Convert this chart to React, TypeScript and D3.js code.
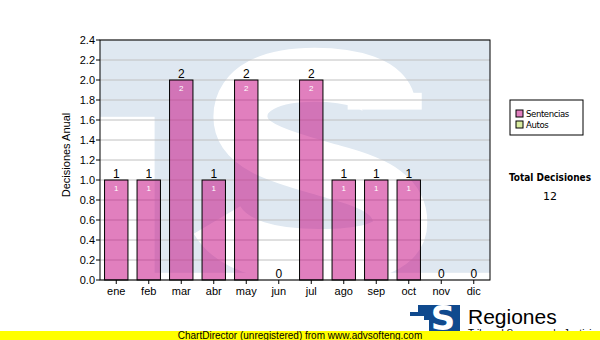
import React from "react";
import * as d3 from "d3";

const months = ["ene", "feb", "mar", "abr", "may", "jun", "jul", "ago", "sep", "oct", "nov", "dic"];
const sentencias = [1, 1, 2, 1, 2, 0, 2, 1, 1, 1, 0, 0];
const autos = [0, 0, 0, 0, 0, 0, 0, 0, 0, 0, 0, 0];
const yTicks = [0, 0.2, 0.4, 0.6, 0.8, 1.0, 1.2, 1.4, 1.6, 1.8, 2.0, 2.2, 2.4];
const legendItems = ["Sentencias", "Autos"];
const legendColors = ["#e07fbe", "#d9eca0"];
const totalLabel = "Total Decisiones";

const W = 600;
const H = 340;
const plot = { left: 100, top: 40, right: 490, bottom: 280 };
const font = "Arial, 'Liberation Sans', sans-serif";

export default function App() {
  const x = d3
    .scaleBand<string>()
    .domain(months)
    .range([plot.left, plot.right])
    .paddingInner(0.28)
    .paddingOuter(0.14);
  const y = d3.scaleLinear().domain([0, 2.4]).range([plot.bottom, plot.top]);
  const pw = plot.right - plot.left;
  const ph = plot.bottom - plot.top;
  const total = d3.sum(sentencias) + d3.sum(autos);

  // watermark (decorative logo), relative to plot area
  const px = (f: number) => plot.left + f * pw;
  const py = (f: number) => plot.top + f * ph;
  const sPath = `M ${px(0.74)} ${py(0.28)}
    C ${px(0.74)} ${py(0.18)}, ${px(0.64)} ${py(0.145)}, ${px(0.55)} ${py(0.145)}
    C ${px(0.44)} ${py(0.145)}, ${px(0.36)} ${py(0.2)}, ${px(0.36)} ${py(0.32)}
    C ${px(0.36)} ${py(0.46)}, ${px(0.5)} ${py(0.5)}, ${px(0.6)} ${py(0.55)}
    C ${px(0.72)} ${py(0.6)}, ${px(0.77)} ${py(0.66)}, ${px(0.77)} ${py(0.76)}
    C ${px(0.77)} ${py(0.88)}, ${px(0.66)} ${py(0.9)}, ${px(0.56)} ${py(0.9)}
    C ${px(0.44)} ${py(0.9)}, ${px(0.34)} ${py(0.86)}, ${px(0.3)} ${py(0.75)}`;

  return (
    <svg
      width={W}
      height={H}
      style={{ position: "absolute", left: 0, top: 0, background: "#ffffff" }}
      fontFamily={font}
    >
      <rect x={0} y={0} width={W} height={H} fill="#ffffff" />
      {/* watermark */}
      <g>
        <rect x={plot.left} y={plot.top} width={pw} height={ph * 0.97} fill="#dfe8f1" />
        <rect x={plot.left} y={py(0.32)} width={pw * 0.14} height={ph * 0.68} fill="#ffffff" />
        <path d={sPath} fill="none" stroke="#ffffff" strokeWidth={54} />
        <rect x={px(0.635)} y={py(0.22)} width={pw * 0.19} height={ph * 0.07} fill="#ffffff" />
      </g>
      {/* grid */}
      {yTicks.map((t) => (
        <line
          key={"g" + t}
          x1={plot.left}
          x2={plot.right}
          y1={y(t)}
          y2={y(t)}
          stroke="#c0c0c0"
          strokeWidth={1}
        />
      ))}
      {/* bars */}
      {months.map((m, i) => {
        const v = sentencias[i];
        const bx = x(m)!;
        const bw = x.bandwidth();
        return (
          <g key={m}>
            {v > 0 && (
              <rect
                x={bx}
                y={y(v)}
                width={bw}
                height={y(0) - y(v)}
                fill="rgb(198,14,132)"
                fillOpacity={0.53}
                stroke="#000000"
                strokeWidth={1}
              />
            )}
            <text
              x={bx + bw / 2}
              y={y(v) - 2}
              textAnchor="middle"
              fontSize={12}
              fill="#000000"
            >
              {v}
            </text>
            {v > 0 && (
              <text
                x={bx + bw / 2}
                y={y(v) + 11}
                textAnchor="middle"
                fontSize={8}
                fill="#ffffff"
              >
                {v}
              </text>
            )}
          </g>
        );
      })}
      {/* frame */}
      <rect
        x={plot.left}
        y={plot.top}
        width={pw}
        height={ph}
        fill="none"
        stroke="#000000"
        strokeWidth={1}
      />
      {/* y axis */}
      {yTicks.map((t) => (
        <g key={"y" + t}>
          <line x1={plot.left - 4} x2={plot.left} y1={y(t)} y2={y(t)} stroke="#000" />
          <text
            x={plot.left - 5}
            y={y(t) + 4}
            textAnchor="end"
            fontSize={11}
            fill="#000"
          >
            {t.toFixed(1)}
          </text>
        </g>
      ))}
      <text
        transform={`translate(70, 155) rotate(-90)`}
        textAnchor="middle"
        fontSize={11}
        fill="#000"
      >
        Decisiones Anual
      </text>
      {/* x axis */}
      {months.map((m) => (
        <g key={"x" + m}>
          <line
            x1={x(m)! + x.bandwidth() / 2}
            x2={x(m)! + x.bandwidth() / 2}
            y1={plot.bottom}
            y2={plot.bottom + 4}
            stroke="#000"
          />
          <text
            x={x(m)! + x.bandwidth() / 2}
            y={plot.bottom + 15}
            textAnchor="middle"
            fontSize={11}
            fill="#000"
          >
            {m}
          </text>
        </g>
      ))}
      {/* legend */}
      <rect x={510} y={100} width={73} height={35} fill="#fff" stroke="#000" />
      {legendItems.map((name, i) => (
        <g key={name}>
          <rect
            x={516}
            y={110 + i * 11}
            width={7}
            height={7}
            fill={legendColors[i]}
            stroke="#000"
          />
          <text x={526} y={117 + i * 11} fontSize={9.5} fill="#000" fontFamily="'DejaVu Sans Condensed', 'DejaVu Sans', sans-serif" letterSpacing={-0.4}>
            {name}
          </text>
        </g>
      ))}
      <text
        x={550}
        y={181}
        textAnchor="middle"
        fontSize={10}
        fontWeight="bold"
        fill="#000"
        fontFamily="'DejaVu Sans Condensed', 'DejaVu Sans', sans-serif"
      >
        {totalLabel}
      </text>
      <text
        x={550}
        y={200}
        textAnchor="middle"
        fontSize={11}
        fill="#000"
        fontFamily="'DejaVu Sans', sans-serif"
      >
        {total}
      </text>
      {/* bottom logo */}
      <g>
        <rect x={410} y={305} width={50} height={27} fill="#104a8e" />
        <rect x={410} y={305} width={8} height={7} fill="#fff" />
        <rect x={410} y={316} width={14} height={16} fill="#fff" />
        <rect x={424} y={320} width={5} height={12} fill="#fff" />
        <text x={443} y={330} textAnchor="middle" fontSize={34} fontWeight="bold" fill="#fff" fontFamily="'DejaVu Sans', sans-serif">
          S
        </text>
        <text x={468} y={324} fontSize={21} fill="#000">
          Regiones
        </text>
        <text x={468} y={337} fontSize={10} fill="#000">
          Tribunal Supremo de Justicia
        </text>
      </g>
      {/* footer band */}
      <rect x={0} y={331} width={W} height={9} fill="#ffff00" />
      <text x={300} y={339} textAnchor="middle" fontSize={10} fill="#000">
        ChartDirector (unregistered) from www.advsofteng.com
      </text>
    </svg>
  );
}
